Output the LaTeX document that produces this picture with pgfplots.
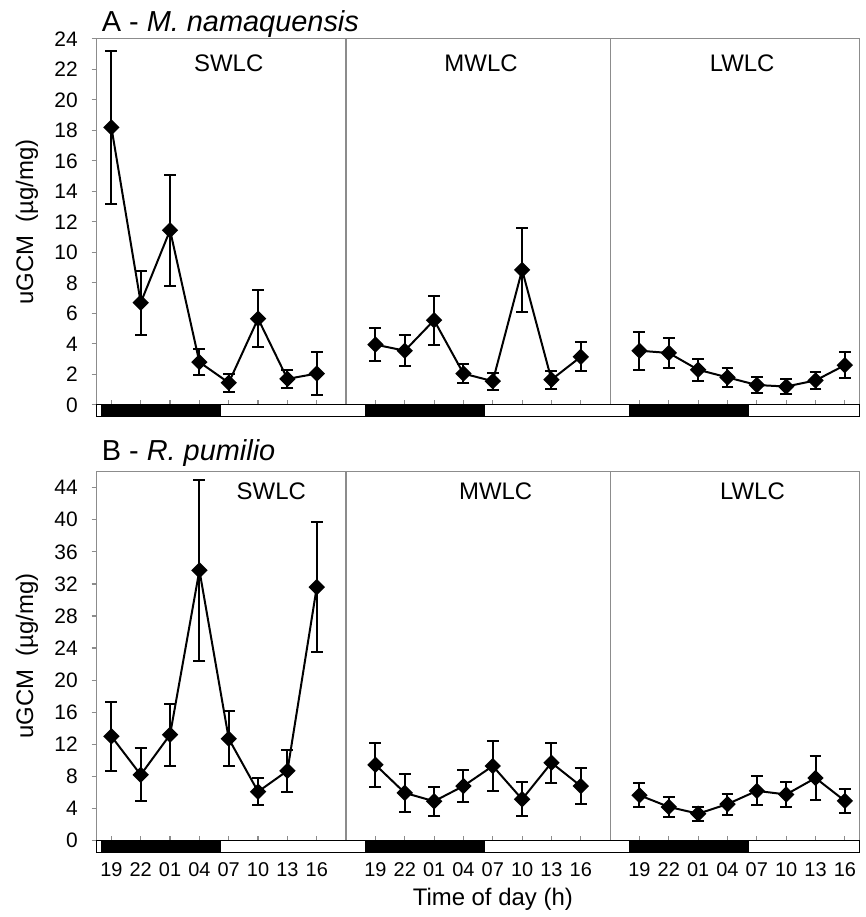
\documentclass[border=0pt]{standalone}
\usepackage{pgfplots}
\pgfplotsset{compat=1.18}
\usepackage{pgfplotstable}
\usepackage{fontspec}
\setmainfont{Liberation Sans}

\definecolor{axisgray}{RGB}{140,140,140}

% x: 0-7 SWLC, 9-16 MWLC, 18-25 LWLC ; e = error (+/-)
\pgfplotstableread{
x y e
0 18.2 5.0
1 6.7 2.1
2 11.45 3.65
3 2.8 0.85
4 1.45 0.6
5 5.65 1.85
6 1.7 0.6
7 2.05 1.4
}\aSW
\pgfplotstableread{
x y e
9 3.95 1.1
10 3.55 1.0
11 5.55 1.6
12 2.05 0.65
13 1.55 0.55
14 8.85 2.75
15 1.65 0.6
16 3.15 0.95
}\aMW
\pgfplotstableread{
x y e
18 3.55 1.25
19 3.4 1.0
20 2.3 0.73
21 1.8 0.6
22 1.3 0.55
23 1.2 0.5
24 1.6 0.55
25 2.6 0.85
}\aLW
\pgfplotstableread{
x y e
0 13.0 4.3
1 8.2 3.3
2 13.2 3.85
3 33.7 11.3
4 12.7 3.4
5 6.1 1.65
6 8.7 2.6
7 31.6 8.1
}\bSW
\pgfplotstableread{
x y e
9 9.45 2.75
10 5.95 2.4
11 4.9 1.8
12 6.8 2.05
13 9.3 3.1
14 5.15 2.1
15 9.7 2.5
16 6.8 2.3
}\bMW
\pgfplotstableread{
x y e
18 5.65 1.5
19 4.2 1.25
20 3.35 0.88
21 4.55 1.3
22 6.2 1.8
23 5.75 1.6
24 7.8 2.75
25 4.95 1.45
}\bLW

\pgfplotsset{
  panel/.style={
    scale only axis, width=382.5pt,
    xmin=-0.5, xmax=25.5, ymin=0,
    axis line style={axisgray, line width=0.6pt},
    tick style={axisgray, line width=0.6pt},
    major tick length=2.5pt,
    tick align=inside,
    xtick={0,...,7,9,10,...,16,18,19,...,25},
    xtick pos=left, ytick pos=left,
    ytick style={xshift=-2.5pt},
    yticklabel style={font=\fontsize{10.5}{12}\selectfont, xshift=-6pt},
    /pgf/number format/assume math mode=true,
    ylabel={uGCM\ \ (µg/mg)},
    ylabel style={font=\fontsize{12}{14}\selectfont,
      at={(axis description cs:-0.0915,0.5)}, anchor=center},
    clip=false,
  },
  series/.style={
    black, line width=1pt, mark=square*, mark size=2.4pt,
    mark options={rotate=45},
    error bars/.cd, y dir=both, y explicit,
    error mark=|,
    error mark options={black, mark size=3pt, line width=1pt},
    error bar style={black, line width=1pt},
  },
}

\newcommand{\daybar}{%
  \draw[black, line width=0.6pt, fill=white] (axis cs:-0.5,0) rectangle ([yshift=-6pt]axis cs:25.5,0);
  \fill[black] (axis cs:-0.35,0) rectangle ([yshift=-6pt]axis cs:3.75,0);
  \fill[black] (axis cs:8.65,0) rectangle ([yshift=-6pt]axis cs:12.75,0);
  \fill[black] (axis cs:17.65,0) rectangle ([yshift=-6pt]axis cs:21.75,0);
  \draw[black, line width=0.6pt] (axis cs:-0.5,0) rectangle ([yshift=-6pt]axis cs:25.5,0);
}

\begin{document}
\begin{tikzpicture}
\path (0,0) rectangle (434pt,458.5pt);

% Panel A
\begin{axis}[panel, at={(48.5pt,255.5pt)}, anchor=south west,
  height=183.5pt, ymax=24, ytick={0,2,...,24}, xticklabels={}]
\addplot[series] table[x=x, y=y, y error=e] {\aSW};
\addplot[series] table[x=x, y=y, y error=e] {\aMW};
\addplot[series] table[x=x, y=y, y error=e] {\aLW};
\draw[axisgray, line width=0.6pt] (axis cs:8,0) -- (axis cs:8,24);
\draw[axisgray, line width=0.6pt] (axis cs:17,0) -- (axis cs:17,24);
\daybar
\node[font=\fontsize{12}{14}\selectfont] at (axis cs:4.0,22.4) {SWLC};
\node[font=\fontsize{12}{14}\selectfont] at (axis cs:12.6,22.4) {MWLC};
\node[font=\fontsize{12}{14}\selectfont] at (axis cs:21.5,22.4) {LWLC};
\node[anchor=base west, font=\fontsize{14.5}{17}\selectfont]
  at ([xshift=-1pt,yshift=3.5pt]rel axis cs:0,1) {A - \textit{M. namaquensis}};
\end{axis}

% Panel B
\begin{axis}[panel, at={(48.5pt,37pt)}, anchor=south west,
  height=185pt, ymax=46, ytick={0,4,...,44},
  xticklabels={19,22,01,04,07,10,13,16,19,22,01,04,07,10,13,16,19,22,01,04,07,10,13,16},
  xticklabel style={font=\fontsize{10}{12}\selectfont, anchor=base, yshift=-18pt},
  xlabel={Time of day (h)},
  xlabel style={font=\fontsize{12}{14}\selectfont, at={(axis cs:13,0)}, anchor=base, yshift=-32.5pt}]
\addplot[series] table[x=x, y=y, y error=e] {\bSW};
\addplot[series] table[x=x, y=y, y error=e] {\bMW};
\addplot[series] table[x=x, y=y, y error=e] {\bLW};
\draw[axisgray, line width=0.6pt] (axis cs:8,0) -- (axis cs:8,46);
\draw[axisgray, line width=0.6pt] (axis cs:17,0) -- (axis cs:17,46);
\daybar
\node[font=\fontsize{12}{14}\selectfont] at (axis cs:5.45,43.5) {SWLC};
\node[font=\fontsize{12}{14}\selectfont] at (axis cs:13.1,43.5) {MWLC};
\node[font=\fontsize{12}{14}\selectfont] at (axis cs:21.85,43.5) {LWLC};
\node[anchor=base west, font=\fontsize{14.5}{17}\selectfont]
  at ([xshift=-1pt,yshift=5.5pt]rel axis cs:0,1) {B - \textit{R. pumilio}};
\end{axis}
\end{tikzpicture}
\end{document}
